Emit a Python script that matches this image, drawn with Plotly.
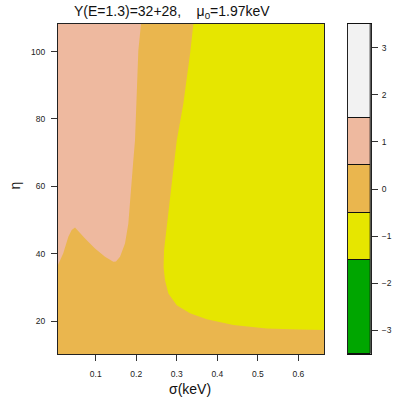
import plotly.graph_objects as go

# ---- data ----
x_range = [0.007, 0.664]
y_range = [10.2, 108.2]

# boundary of the pink (0.5..1.5) region, clockwise from top-left corner
pink_x = [0.007, 0.2118, 0.2052, 0.1995, 0.197, 0.1928, 0.1872, 0.1805, 0.1723, 0.160, 0.150,
          0.1435, 0.123, 0.0983, 0.0737, 0.049, 0.0408, 0.0325, 0.020, 0.0078, 0.007]
pink_y = [108.2, 108.2, 100.3, 80.5, 73.6, 67.7, 58.8, 48.9, 43.0, 39.05, 37.7,
          37.6, 39.05, 41.5, 44.5, 47.8, 47.0, 45.0, 40.1, 37.1, 36.6]

# boundary of the yellow (-1.5..-0.5) region
yel_x = [0.341, 0.3327, 0.3162, 0.300, 0.2876, 0.2753, 0.2686, 0.2675, 0.271, 0.2793, 0.300,
         0.3327, 0.374, 0.4396, 0.522, 0.604, 0.664, 0.664]
yel_y = [108.2, 99.3, 84.5, 73.6, 60.8, 48.9, 41.0, 36.0, 32.1, 28.2, 24.7,
         22.3, 20.5, 18.8, 17.8, 17.5, 17.3, 108.2]

levels = [-3.5, -1.5, -0.5, 0.5, 1.5, 3.5]
level_colors = ["#00A600", "#E6E600", "#EAB64E", "#EEB99F", "#F2F2F2"]
x_ticks = [0.1, 0.2, 0.3, 0.4, 0.5, 0.6]
y_ticks = [20, 40, 60, 80, 100]
cb_ticks = [-3, -2, -1, 0, 1, 2, 3]
cb_ticktext = ["\u22123", "\u22122", "\u22121", "0", "1", "2", "3"]

title_text = "Y(E=1.3)=32+28,    \u03bc<sub>0</sub>=1.97keV"
xlabel = "\u03c3(keV)"
ylabel = "\u03b7"

FONT = "Liberation Sans, Arial, Helvetica, sans-serif"
W, H = 394, 398

fig = go.Figure()

# background level (orange, -0.5..0.5)
fig.add_trace(go.Scatter(
    x=[x_range[0], x_range[1], x_range[1], x_range[0], x_range[0]],
    y=[y_range[0], y_range[0], y_range[1], y_range[1], y_range[0]],
    mode="lines", fill="toself", fillcolor=level_colors[2],
    line=dict(width=0), hoverinfo="skip", showlegend=False))
fig.add_trace(go.Scatter(
    x=pink_x + [pink_x[0]], y=pink_y + [pink_y[0]],
    mode="lines", fill="toself", fillcolor=level_colors[3],
    line=dict(width=0), hoverinfo="skip", showlegend=False))
fig.add_trace(go.Scatter(
    x=yel_x + [yel_x[0]], y=yel_y + [yel_y[0]],
    mode="lines", fill="toself", fillcolor=level_colors[1],
    line=dict(width=0), hoverinfo="skip", showlegend=False))

# colour key as stacked bars
for i in range(len(level_colors)):
    fig.add_trace(go.Bar(
        x=[0], y=[levels[i + 1] - levels[i]], base=[levels[i]],
        marker=dict(color=level_colors[i], line=dict(color="#111111", width=1)),
        width=1, xaxis="x2", yaxis="y2", hoverinfo="skip", showlegend=False))

px = lambda v: v / W
py = lambda v: 1 - v / H

axis_common = dict(showgrid=False, zeroline=False, showline=True, mirror=True,
                   linecolor="#222222", linewidth=1.2, ticks="outside", ticklen=6,
                   tickcolor="#333333", tickwidth=1,
                   tickfont=dict(family=FONT, size=8.5, color="#222222"))

fig.update_layout(
    width=W, height=H, margin=dict(l=0, r=0, t=0, b=0),
    paper_bgcolor="white", plot_bgcolor="white",
    barmode="overlay", bargap=0,
    xaxis=dict(domain=[px(58), px(324.3)], range=x_range, tickvals=x_ticks,
               ticklabelstandoff=6, **axis_common),
    yaxis=dict(domain=[py(354), py(24)], range=y_range, tickvals=y_ticks,
               ticklabelstandoff=4, **axis_common),
    xaxis2=dict(domain=[px(347.7), px(371)], range=[-0.5, 0.5], anchor="y2",
                showticklabels=False, ticks="", showgrid=False, zeroline=False,
                showline=True, mirror=True, linecolor="#111111", linewidth=1.2),
    yaxis2=dict(domain=[py(354), py(24)], range=[-3.5, 3.5], anchor="x2", side="right",
                tickvals=cb_ticks, ticktext=cb_ticktext, ticklabelstandoff=2,
                **axis_common),
    annotations=[
        dict(text=title_text, x=px(171.7), y=py(12.5), xref="paper", yref="paper",
             xanchor="center", yanchor="middle", showarrow=False,
             font=dict(family=FONT, size=14, color="#111111")),
        dict(text=xlabel, x=px(190), y=py(389), xref="paper", yref="paper",
             xanchor="center", yanchor="middle", showarrow=False,
             font=dict(family=FONT, size=14, color="#111111")),
        dict(text=ylabel, x=px(14.5), y=py(186), xref="paper", yref="paper",
             xanchor="center", yanchor="middle", showarrow=False, textangle=-90,
             font=dict(family=FONT, size=14, color="#111111")),
    ],
)

fig.write_html("out.html")
